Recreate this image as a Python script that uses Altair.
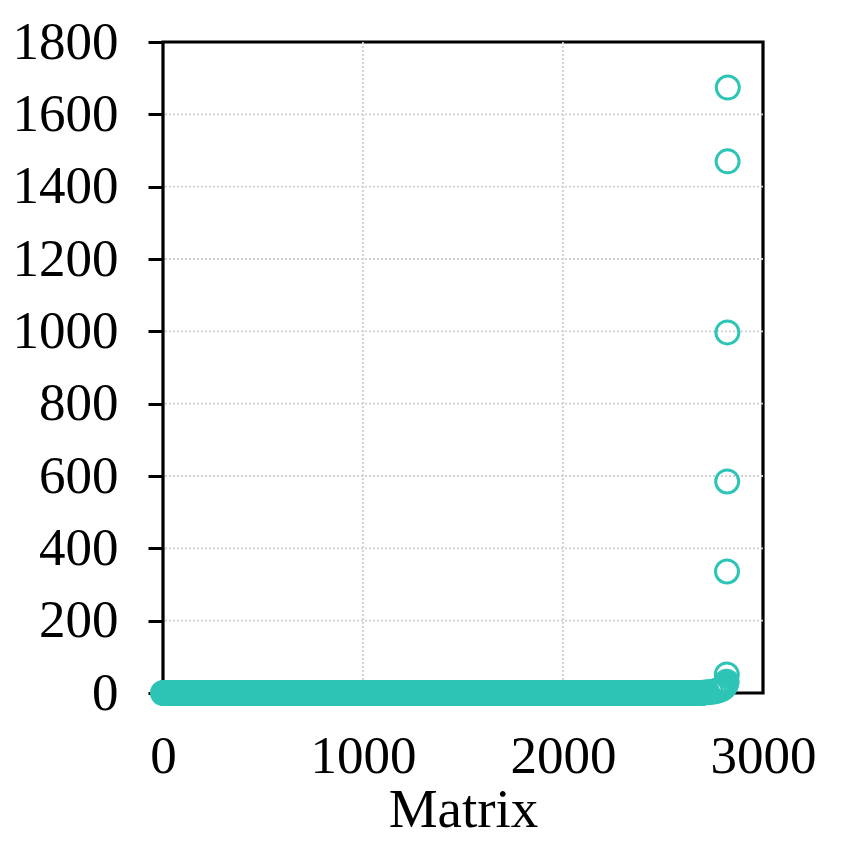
import altair as alt
import pandas as pd

# Flat part: matrices whose value is ~0
flat_x = list(range(0, 2700, 5))
flat_y = [0] * len(flat_x)

# Tail (rising part) and outliers
tail_x = [2700, 2720, 2740, 2755, 2770, 2780, 2790, 2798, 2804, 2809, 2813, 2816, 2818, 2819, 2820, 2821, 2822, 2823, 2824]
tail_y = [1, 2, 3, 4, 6, 8, 10, 13, 16, 19, 23, 27, 31, 51, 336, 585, 997, 1470, 1674]

x_ticks = [0, 1000, 2000, 3000]
y_ticks = [0, 200, 400, 600, 800, 1000, 1200, 1400, 1600, 1800]
x_grid = [1000, 2000]
y_grid = [200, 400, 600, 800, 1000, 1200, 1400, 1600]

df = pd.DataFrame({"Matrix": flat_x + tail_x, "value": flat_y + tail_y})
gx = pd.DataFrame({"g": x_grid})
gy = pd.DataFrame({"g": y_grid})

font = "Liberation Serif"
grid_color = "#d0d0d0"

xscale = alt.Scale(domain=[0, 3000], nice=False)
yscale = alt.Scale(domain=[0, 1800], nice=False)

vgrid = alt.Chart(gx).mark_rule(color=grid_color, strokeDash=[2, 2], strokeWidth=1.8).encode(
    x=alt.X("g:Q", scale=xscale)
)
hgrid = alt.Chart(gy).mark_rule(color=grid_color, strokeDash=[2, 2], strokeWidth=1.8).encode(
    y=alt.Y("g:Q", scale=yscale)
)

points = alt.Chart(df).mark_point(
    shape="circle", filled=False, size=530, strokeWidth=3, color="#2EC4B6", opacity=1
).encode(
    x=alt.X("Matrix:Q", scale=xscale,
            axis=alt.Axis(values=x_ticks, title="Matrix", ticks=False, format="d",
                          labelFlush=False, labelPadding=37, titlePadding=0)),
    y=alt.Y("value:Q", scale=yscale,
            axis=alt.Axis(values=y_ticks, title=None, tickSize=15, format="d",
                          tickWidth=3, tickColor="black", labelPadding=30)),
)

chart = alt.layer(vgrid, hgrid, points).properties(
    width=600, height=651,
    autosize=alt.AutoSizeParams(type="none"),
    padding={"left": 155, "top": 34, "right": 74, "bottom": 150},
).configure_view(
    stroke="black", strokeWidth=3.2
).configure_axis(
    domain=False, grid=False,
    labelFont=font, labelFontSize=53, labelColor="black",
    titleFont=font, titleFontSize=55, titleFontWeight="normal", titleColor="black",
)

chart.save("out.html", embed_options={"renderer": "svg", "actions": False})
